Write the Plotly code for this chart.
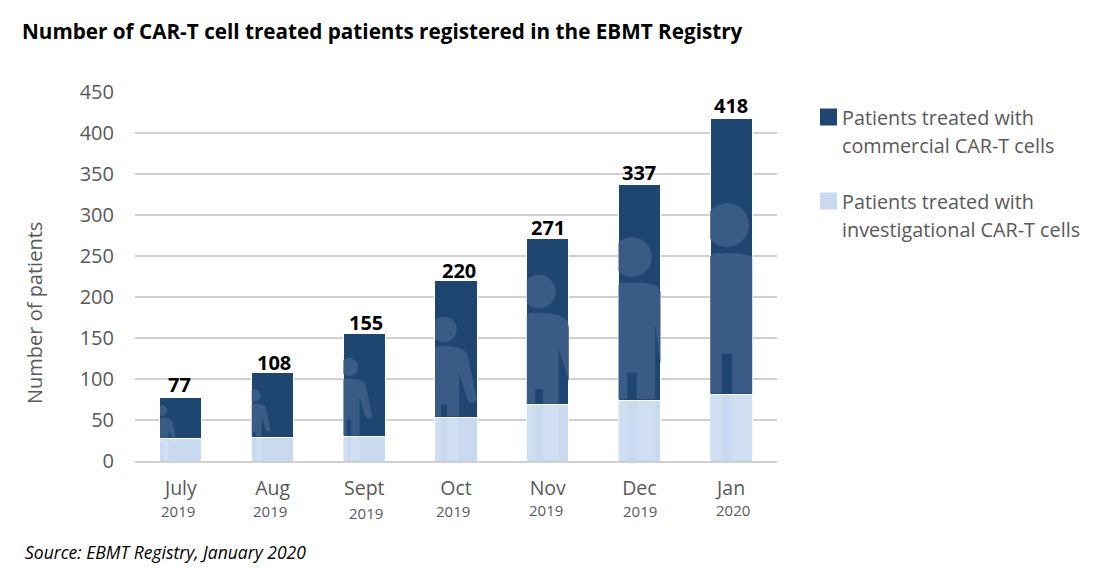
import math
import plotly.graph_objects as go

months = ["July", "Aug", "Sept", "Oct", "Nov", "Dec", "Jan"]
years = ["2019", "2019", "2019", "2019", "2019", "2019", "2020"]
totals = [77, 108, 155, 220, 271, 337, 418]
investigational = [27, 29, 30, 53, 69, 74, 81]
commercial = [t - i for t, i in zip(totals, investigational)]
y_ticks = [0, 50, 100, 150, 200, 250, 300, 350, 400, 450]

# pictogram behind the bars: centre x, head centre y, head radius (page pixels)
person_x = [162, 254.4, 349, 444, 539, 632, 727]
person_y = [410.5, 395.5, 367, 329.5, 291.5, 257, 225]
person_r = [5.5, 6.3, 9, 12.8, 16.7, 19.8, 22]

# hand placed labels, they are not lined up in the original
year_x = [178, 270, 366, 453, 546, 640, 733]
year_y = [511, 511, 513, 511, 510, 511, 510]
label_xshift = [-1, 1, 2, 3, 0, 0, 0]
label_yshift = [13, 10, 11, 10, 11, 12, 13]

NAVY = "#1f4571"
PERSON = "#3a5b85"
PALE = "#c9daf0"
PALE2 = "#d0dff2"
GREY = "#595959"
LINE = "#d0d0d0"
FONT = "Open Sans"

# page has an 8px body margin, so the figure is drawn offset by that
LEFT, RIGHT, TOP, BOTTOM = 135, 777, 92, 461
PAGE = 8
BAR_WIDTH = 0.46


def px(x):
    return (x - LEFT) / (RIGHT - LEFT)


def py(y):
    return (BOTTOM - y) / (BOTTOM - TOP)


def to_x(x):
    return -0.5 + 7 * px(x)


def to_y(y):
    return 450 * py(y)


def clamped_path(points, left, right, top, bottom):
    out = []
    for x, y in points:
        out.append((to_x(min(max(x, left), right)), to_y(min(max(y, top), bottom))))
    return "M" + " L".join(f"{a:.4f},{b:.3f}" for a, b in out) + " Z"


def add_person(fig, i, top, bottom, color):
    cx, cy, r = person_x[i], person_y[i], person_r[i]
    c = 181 + i * 91.7
    left, right = c - 21, c + 21
    head = [(cx + r * math.cos(t / 24 * math.pi), cy + r * math.sin(t / 24 * math.pi)) for t in range(48)]
    arm = [(0, 1.27), (0.6, 1.3), (1.2, 1.42), (1.7, 1.72), (1.9, 2.15), (2.5, 5.27), (2.55, 5.5),
           (2.35, 5.72), (2.0, 5.72), (1.8, 5.4), (1.17, 3.4), (1.17, 20), (0.23, 20), (0.23, 5.85)]
    outline = arm + [(-a, b) for a, b in reversed(arm)]
    body = [(cx + a * r, cy + b * r) for a, b in outline]
    for pts in (head, body):
        fig.add_shape(type="path", path=clamped_path(pts, left, right, top, bottom), xref="x", yref="y",
                      fillcolor=color, line_width=0)


def add_text(x, y, text, size, color=GREY, xanchor="center", **kw):
    fig.add_annotation(xref="paper", yref="paper", x=px(x), y=py(y), xanchor=xanchor, yanchor="middle",
                       text=text, showarrow=False, font=dict(family=FONT, size=size, color=color), **kw)


positions = list(range(len(months)))

fig = go.Figure()
fig.add_bar(x=positions, y=investigational, name="Patients treated with investigational CAR-T cells",
            marker=dict(color=PALE, line=dict(color="white", width=1)), width=BAR_WIDTH, showlegend=False)
fig.add_bar(x=positions, y=commercial, name="Patients treated with commercial CAR-T cells",
            marker=dict(color=NAVY, line=dict(color="white", width=1)), width=BAR_WIDTH, showlegend=False)

for i in positions:
    navy_top = BOTTOM - totals[i] * (BOTTOM - TOP) / 450 + 1
    navy_bottom = BOTTOM - investigational[i] * (BOTTOM - TOP) / 450 - 1
    add_person(fig, i, navy_top, navy_bottom, PERSON)
    add_person(fig, i, navy_bottom + 2, BOTTOM - 1, PALE2)
    fig.add_annotation(x=i, y=totals[i], text=f"<b>{totals[i]}</b>", showarrow=False, yanchor="middle",
                       xanchor="center", xshift=label_xshift[i], yshift=label_yshift[i],
                       font=dict(family=FONT, size=20, color="black"))

# top gridline is not drawn in the original
fig.add_shape(type="line", xref="paper", yref="y", x0=0, x1=1, y0=450, y1=450, line=dict(color="white", width=3))

for year, x, y in zip(years, year_x, year_y):
    add_text(x, y, year, 15)

# legend, swatches are bigger and closer to the text than a plotly legend allows
legend_rows = [(["Patients treated with", "commercial CAR-T cells"], NAVY, 117),
               (["Patients treated with", "investigational CAR-T cells"], PALE, 201)]
for lines, color, y in legend_rows:
    fig.add_shape(type="rect", xref="paper", yref="paper", x0=px(820), x1=px(837),
                  y0=py(y - 8.5), y1=py(y + 8.5), fillcolor=color, line_width=0)
    add_text(840, y, lines[0], 19.8, xanchor="left")
    add_text(840, y + 28, lines[1], 19.8, xanchor="left")

add_text(34, 313, "Number of patients", 20, textangle=-90)
add_text(23, 552, "<i>Source: EBMT Registry, January 2020</i>", 17.5, color="black", xanchor="left")

fig.update_layout(
    width=1098 - 2 * PAGE, height=576 - 2 * PAGE,
    margin=dict(l=LEFT - PAGE, r=1098 - PAGE - RIGHT, t=TOP - PAGE, b=576 - PAGE - BOTTOM, autoexpand=False),
    paper_bgcolor="white", plot_bgcolor="white",
    barmode="stack",
    showlegend=False,
    font=dict(family=FONT, color=GREY),
    title=dict(text="<b>Number of CAR-T cell treated patients registered in the EBMT Registry</b>",
               x=(22 - PAGE) / (1098 - 2 * PAGE), xanchor="left", y=1 - (32 - PAGE) / (576 - 2 * PAGE), yanchor="middle",
               font=dict(family=FONT, size=20.7, color="black")),
    xaxis=dict(tickmode="array", tickvals=positions, ticktext=months, range=[-0.5, 6.5],
               showgrid=False, showline=True, linecolor=LINE, linewidth=2, ticks="", ticklabelstandoff=9,
               tickfont=dict(family=FONT, size=19.5, color=GREY)),
    yaxis=dict(range=[0, 450], tickvals=y_ticks, gridcolor=LINE, gridwidth=2, zeroline=False, ticklabelstandoff=20,
               tickfont=dict(family=FONT, size=20, color=GREY)),
)

fig.write_html("out.html")
